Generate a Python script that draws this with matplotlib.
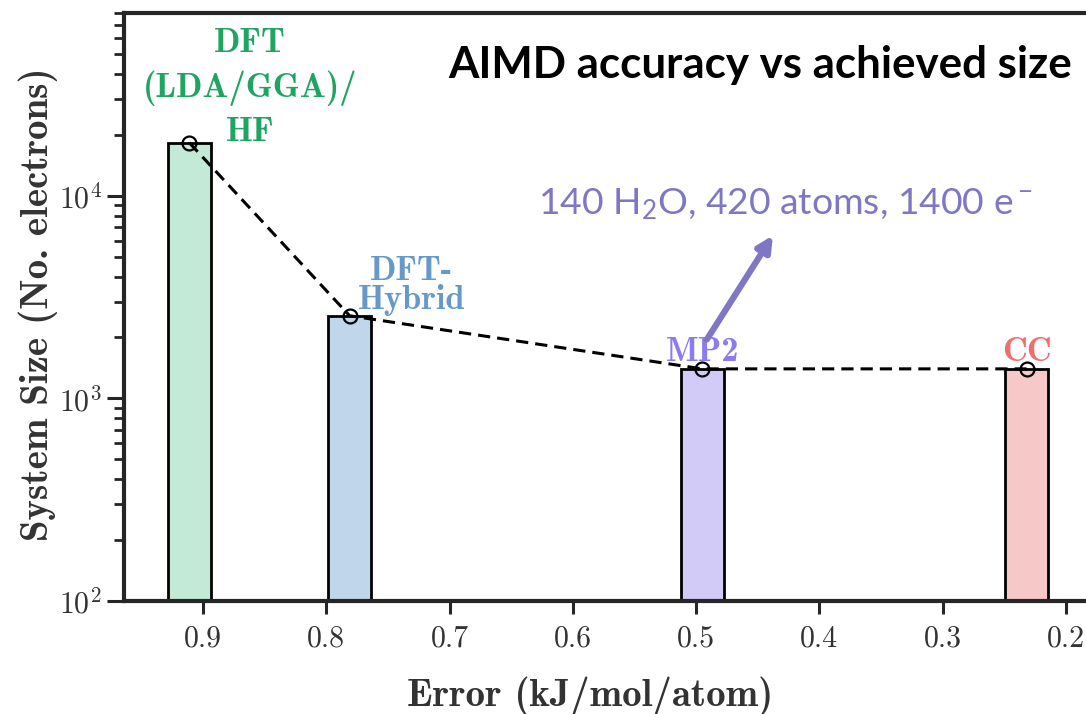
import numpy as np
import matplotlib
matplotlib.use("Agg")
import matplotlib.pyplot as plt

# data
methods = ["DFT\n(LDA/GGA)/\nHF", "DFT-\nHybrid", "MP2", "CC"]
error = [0.911, 0.781, 0.495, 0.232]          # kJ/mol/atom
size = [18300, 2560, 1400, 1400]              # electrons
fill_colors = ["#c3e9d7", "#c0d6ea", "#d2cbf8", "#f7c8c8"]
text_colors = ["#1fa462", "#6699c9", "#8a7cf0", "#ef6f6f"]
label_x = [0.862, 0.7305, 0.4945, 0.232]
label_y = [34100, 3600, 1524, 1524]
xticks = [0.9, 0.8, 0.7, 0.6, 0.5, 0.4, 0.3, 0.2]

plt.rcParams["font.family"] = "cmr10"
plt.rcParams["mathtext.fontset"] = "cm"
plt.rcParams["axes.formatter.use_mathtext"] = True

dark = "#262626"
fig = plt.figure(figsize=(10.86, 7.14), dpi=100)
ax = fig.add_axes([124 / 1086, 1 - 601 / 714, 962 / 1086, 588 / 714])

ax.set_yscale("log")
ax.bar(error, size, width=0.035, bottom=1, color=fill_colors,
       edgecolor="black", linewidth=2, zorder=2)
ax.plot(error, size, "k--", lw=2.2, dashes=(4, 2.3), marker="o", ms=10,
        mfc="none", mec="black", mew=1.6, zorder=3)

ax.set_xlim(0.964, 0.1838)
ax.set_ylim(100, 80000)
ax.set_xticks(xticks)
ax.set_xticklabels([f"{t:.1f}" for t in xticks])

for sp in ["left", "bottom", "top"]:
    ax.spines[sp].set_linewidth(3)
    ax.spines[sp].set_color(dark)
ax.spines["right"].set_visible(False)
ax.tick_params(axis="both", which="major", direction="out", width=2.2,
               color=dark, labelsize=21.5, labelcolor="#333333")
ax.tick_params(axis="x", which="major", length=9, pad=8)
ax.tick_params(axis="y", which="major", length=12, pad=4)
ax.tick_params(axis="y", which="minor", length=7, width=2, color=dark)

ax.set_xlabel("Error (kJ/mol/atom)", family="cmb10", fontsize=28, color="#333333")
ax.set_ylabel("System Size (No. electrons)", family="cmb10", fontsize=28, color="#333333")
ax.xaxis.set_label_coords(0.484, -0.128)
ax.yaxis.set_label_coords(-0.0686, 0.504)

for name, lx, ly, c in zip(methods, label_x, label_y, text_colors):
    if name.startswith("DFT\n"):
        ax.text(lx, ly, name, family="cmb10", fontsize=24.8, color=c,
                ha="center", va="center", linespacing=1.45)
    elif name.startswith("DFT-"):
        ax.text(lx, ly, name, family="cmb10", fontsize=24.8, color=c,
                ha="center", va="center", linespacing=0.9)
    else:
        ax.text(lx, ly, name, family="cmb10", fontsize=24.8, color=c,
                ha="center", va="baseline")

ax.text(0.661, 0.912, "AIMD accuracy vs achieved size", transform=ax.transAxes,
        family="Lato", weight="bold", fontsize=31.6, ha="center", va="center",
        color="black")

purple = "#7f77c6"
ax.text(0.688, 0.675, r"140 H$\mathregular{_2}$O, 420 atoms, 1400 e$\mathregular{^-}$",
        transform=ax.transAxes, family="Lato", fontsize=26.8, color=purple,
        ha="center", va="center")
ax.annotate("", xy=(0.4377, 6380), xytext=(0.4913, 1955),
            arrowprops=dict(arrowstyle="-|>,head_length=0.9,head_width=0.45",
                            color=purple, lw=4.5, shrinkA=0, shrinkB=0))

fig.savefig("out.png", dpi=100)
